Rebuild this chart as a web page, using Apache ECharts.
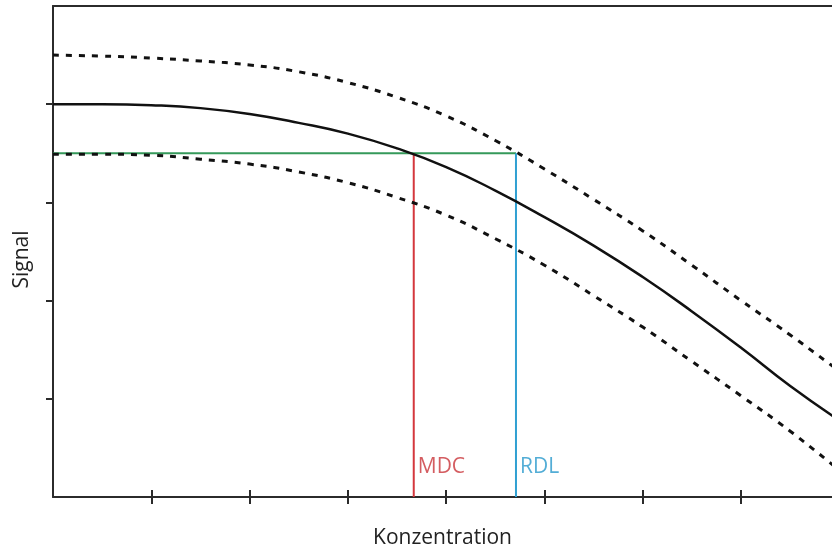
<!DOCTYPE html>
<html>
<head>
<meta charset="utf-8">
<script src="https://cdn.jsdelivr.net/npm/echarts@6/dist/echarts.min.js"></script>
<style>
  html, body { margin: 0; padding: 0; background: #fff; }
  #chart { width: 832px; height: 551px; }
</style>
</head>
<body>
<div id="chart"></div>
<script>
// Konzentration (x) sample points shared by the three curves
const conc = [0, 0.5, 1.0, 1.5, 2.0, 2.5, 3.0, 3.5, 4.0, 4.5, 5.0, 5.5, 6.0, 6.5, 7.0, 7.5, 8.0];
// Kalibrierkurve und Konfidenzband
const signalMean  = [4.00, 4.00, 3.99, 3.96, 3.90, 3.81, 3.70, 3.55, 3.36, 3.12, 2.85, 2.56, 2.24, 1.89, 1.52, 1.13, 0.78];
const signalUpper = [4.50, 4.49, 4.47, 4.44, 4.40, 4.33, 4.22, 4.07, 3.88, 3.63, 3.34, 3.03, 2.71, 2.36, 2.00, 1.65, 1.28];
const signalLower = [3.49, 3.49, 3.48, 3.44, 3.39, 3.31, 3.20, 3.05, 2.87, 2.63, 2.36, 2.05, 1.73, 1.38, 1.03, 0.67, 0.27];

// Schwellenwert und Grenzen
const thresholdSignal = 3.5;
const mdcConc = 3.67;
const rdlConc = 4.71;
const limitLabels = ['MDC', 'RDL'];
const labelSignal = 0.31;

const xTicks = [1, 2, 3, 4, 5, 6, 7];
const yTicks = [1, 2, 3, 4];

const zip = (xs, ys) => xs.map((x, i) => [x, ys[i]]);

const chart = echarts.init(document.getElementById('chart'));
const axisColor = '#2b2b2b';
const font = '"Open Sans", "Noto Sans", sans-serif';
const xMax = 7.925; // picture is cut at the right edge

const option = {
    animation: false,
    grid: { left: 53, top: 6, right: 0, bottom: 54, outerBoundsMode: 'none', containLabel: false },
    xAxis: [
        {
            type: 'value', min: 0, max: xMax, position: 'bottom',
            name: 'Konzentration', nameLocation: 'middle', nameGap: 31,
            nameTextStyle: { fontFamily: font, fontSize: 21, color: '#222' },
            axisLine: { lineStyle: { color: axisColor, width: 2 } },
            axisTick: { show: true, length: 7, customValues: xTicks, lineStyle: { color: axisColor, width: 2 } },
            axisLabel: { show: false },
            splitLine: { show: false }
        },
        {
            // inner half of the crossing ticks
            type: 'value', min: 0, max: xMax, position: 'bottom',
            axisLine: { show: false },
            axisTick: { show: true, inside: true, length: 7, customValues: xTicks, lineStyle: { color: axisColor, width: 2 } },
            axisLabel: { show: false },
            splitLine: { show: false }
        },
        {
            // top frame line
            type: 'value', min: 0, max: xMax, position: 'top',
            axisLine: { lineStyle: { color: axisColor, width: 2 } },
            axisTick: { show: false }, axisLabel: { show: false }, splitLine: { show: false }
        }
    ],
    yAxis: {
        type: 'value', min: 0, max: 5, interval: 1,
        name: 'Signal', nameLocation: 'middle', nameGap: 20,
        nameTextStyle: { fontFamily: font, fontSize: 21, color: '#222', padding: [0, 16, 0, 0] },
        axisLine: { lineStyle: { color: axisColor, width: 2 } },
        axisTick: { show: true, length: 7, customValues: yTicks, lineStyle: { color: axisColor, width: 2 } },
        axisLabel: { show: false },
        splitLine: { show: false }
    },
    series: [
        {
            type: 'line', data: zip(conc, signalUpper), smooth: 0.5, showSymbol: false,
            lineStyle: { color: '#111', width: 3, type: [6, 7] }, z: 3
        },
        {
            type: 'line', data: zip(conc, signalLower), smooth: 0.5, showSymbol: false,
            lineStyle: { color: '#111', width: 3, type: [6, 7] }, z: 3
        },
        {
            type: 'line', data: [[0, thresholdSignal], [rdlConc, thresholdSignal]], showSymbol: false,
            lineStyle: { color: '#35995a', width: 2 }, z: 2
        },
        {
            type: 'line', data: [[mdcConc, 0], [mdcConc, thresholdSignal]], showSymbol: false,
            lineStyle: { color: '#d4373d', width: 2 }, z: 2
        },
        {
            type: 'line', data: [[rdlConc, 0], [rdlConc, thresholdSignal]], showSymbol: false,
            lineStyle: { color: '#30a0d2', width: 2 }, z: 2
        },
        {
            type: 'line', data: zip(conc, signalMean), smooth: 0.5, showSymbol: false,
            lineStyle: { color: '#111', width: 2.5 }, z: 4
        },
        {
            type: 'scatter', symbolSize: 0, silent: true,
            data: [
                { value: [mdcConc, labelSignal], name: limitLabels[0], label: { color: '#c9343a' } },
                { value: [rdlConc, labelSignal], name: limitLabels[1], label: { color: '#2898cc' } }
            ],
            label: {
                show: true, position: 'right', distance: 4, formatter: '{b}',
                fontFamily: font, fontSize: 21
            }
        }
    ]
};

chart.setOption(option);
window.addEventListener('resize', () => chart.resize());
</script>
</body>
</html>
